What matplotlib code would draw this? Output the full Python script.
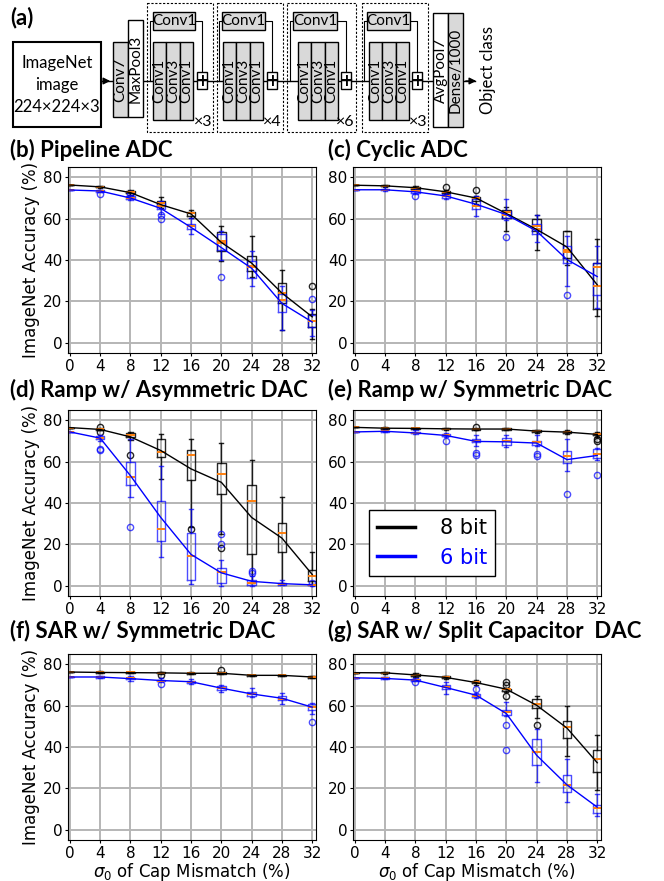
import matplotlib
matplotlib.use("Agg")
import matplotlib.pyplot as plt
from matplotlib.patches import Rectangle

# sigma_0 of capacitor mismatch (%)
sigma = [0, 4, 8, 12, 16, 20, 24, 28, 32]

# each box row: (whisker low, q1, median, q3, whisker high)
# (b) Pipeline ADC
b8_mean = [76.3, 75.4, 72.6, 66.8, 62.3, 48.5, 38.5, 24.0, 12.5]
b8_box = [(76.3, 76.3, 76.3, 76.3, 76.3), (74.8, 75.1, 75.4, 75.7, 76.0), (71.5, 72.2, 72.8, 73.4, 73.9),
          (65.2, 66.2, 67.8, 68.6, 70.7), (60.5, 61.3, 62.6, 63.2, 64.2), (39.7, 44.2, 49.1, 53.5, 56.4),
          (32.0, 34.8, 36.4, 41.8, 51.5), (6.0, 19.0, 23.9, 28.8, 35.3), (2.0, 7.6, 10.4, 14.1, 16.3)]
b8_fly = {32: [27.6]}
b6_mean = [73.9, 73.4, 70.0, 65.0, 55.8, 46.0, 36.0, 19.0, 10.0]
b6_box = [(73.9, 73.9, 73.9, 73.9, 73.9), (72.8, 73.0, 73.4, 73.8, 74.0), (69.0, 69.4, 70.2, 71.0, 71.5),
          (62.5, 64.6, 66.2, 67.8, 68.6), (52.7, 54.8, 56.4, 57.2, 60.5), (40.0, 45.0, 48.3, 52.4, 54.0),
          (27.2, 31.2, 36.9, 39.3, 44.2), (6.0, 15.0, 20.7, 23.4, 27.2), (3.0, 7.6, 10.4, 13.3, 16.0)]
b6_fly = {4: [72.0], 8: [71.8], 12: [60.0, 62.0], 20: [32.0], 32: [21.1]}

# (c) Cyclic ADC
c8_mean = [76.2, 75.9, 75.0, 73.0, 70.0, 62.5, 54.8, 46.3, 28.0]
c8_box = [(76.2, 76.2, 76.2, 76.2, 76.2), (75.4, 75.7, 76.0, 76.2, 76.5), (74.0, 74.5, 75.0, 75.4, 75.8),
          (71.8, 72.3, 72.8, 73.3, 73.8), (67.0, 68.8, 69.8, 70.4, 71.0), (54.0, 60.5, 63.4, 64.0, 65.7),
          (45.0, 54.0, 56.4, 59.7, 62.0), (37.7, 41.0, 45.0, 54.0, 54.0), (12.8, 16.3, 27.2, 38.5, 50.0)]
c8_fly = {12: [75.4], 16: [73.8]}
c6_mean = [74.0, 74.0, 73.0, 71.0, 67.0, 62.0, 54.0, 40.2, 32.0]
c6_box = [(74.0, 74.0, 74.0, 74.0, 74.0), (73.5, 73.8, 74.1, 74.5, 75.8), (72.0, 72.6, 73.2, 73.8, 75.0),
          (69.5, 70.2, 71.0, 71.8, 72.8), (61.3, 64.6, 66.0, 69.4, 71.0), (59.2, 60.5, 62.0, 63.6, 69.4),
          (48.8, 52.4, 55.0, 57.2, 62.0), (27.5, 38.5, 44.0, 46.7, 51.5), (16.6, 23.1, 36.4, 38.5, 46.7)]
c6_fly = {8: [71.0], 20: [51.2], 28: [23.0]}

# (d) Ramp w/ Asymmetric DAC
d8_mean = [76.5, 75.6, 72.0, 65.4, 56.5, 50.0, 33.0, 23.0, 5.4]
d8_box = [(76.5, 76.5, 76.5, 76.5, 76.5), (75.2, 75.5, 75.8, 76.0, 76.3), (70.5, 71.8, 72.8, 73.8, 74.5),
          (51.6, 62.2, 64.9, 70.8, 73.5), (28.5, 51.1, 63.0, 65.7, 70.8), (24.8, 44.6, 54.1, 59.3, 69.2),
          (1.3, 15.1, 41.1, 48.7, 60.9), (1.3, 16.2, 25.3, 30.2, 43.0), (0.5, 2.1, 4.9, 7.8, 16.4)]
d8_fly = {4: [76.8, 74.6], 8: [63.3], 16: [27.3], 20: [18.3]}
d6_mean = [74.4, 71.4, 53.2, 33.0, 15.1, 6.2, 2.1, 1.0, 0.4]
d6_box = [(74.4, 74.4, 74.4, 74.4, 74.4), (70.0, 70.8, 71.6, 72.2, 73.0), (42.7, 48.7, 52.8, 59.7, 70.8),
          (13.8, 21.6, 27.6, 41.1, 58.0), (1.0, 2.9, 14.3, 25.6, 37.0), (0.0, 1.3, 6.5, 8.6, 12.2),
          (0.0, 0.5, 1.5, 2.9, 4.9), (0.2, 0.5, 0.8, 1.2, 2.5), (0.0, 0.2, 0.4, 0.6, 1.0)]
d6_fly = {4: [66.2, 65.8], 8: [28.6], 20: [20.0, 24.8], 24: [6.2, 7.0], 32: [1.3]}

# (e) Ramp w/ Symmetric DAC
e8_mean = [76.6, 76.2, 76.1, 75.9, 75.8, 75.8, 74.8, 74.3, 73.2]
e8_box = [(76.6, 76.6, 76.6, 76.6, 76.6), (75.8, 76.0, 76.2, 76.4, 76.6), (75.7, 75.9, 76.1, 76.3, 76.5),
          (75.2, 75.6, 75.9, 76.2, 76.5), (75.2, 75.5, 75.8, 76.0, 76.3), (75.2, 75.5, 75.8, 76.1, 76.4),
          (73.9, 74.4, 74.8, 75.1, 75.5), (73.3, 73.9, 74.3, 74.7, 75.1), (72.0, 72.8, 73.3, 73.7, 74.2)]
e8_fly = {16: [76.9], 32: [69.8, 71.0]}
e6_mean = [74.4, 74.7, 73.9, 72.7, 69.8, 69.6, 69.0, 61.0, 63.0]
e6_box = [(74.4, 74.4, 74.4, 74.4, 74.4), (74.2, 74.5, 74.7, 75.0, 75.3), (73.3, 73.7, 74.0, 74.6, 75.3),
          (72.0, 72.4, 72.9, 73.3, 73.8), (67.5, 69.4, 70.2, 71.0, 73.1), (67.0, 67.9, 69.8, 71.4, 73.1),
          (67.5, 68.0, 69.3, 70.0, 72.7), (55.7, 59.3, 62.7, 65.4, 70.8), (60.6, 61.7, 63.8, 65.9, 66.6)]
e6_fly = {12: [69.8], 16: [64.3, 63.3], 24: [63.8, 62.7], 28: [44.3], 32: [53.4]}

# (f) SAR w/ Symmetric DAC
f8_mean = [76.3, 76.1, 76.0, 75.9, 75.7, 75.7, 74.7, 74.7, 73.9]
f8_box = [(76.3, 76.3, 76.3, 76.3, 76.3), (75.6, 75.9, 76.1, 76.3, 76.6), (75.7, 75.9, 76.1, 76.3, 76.4),
          (75.3, 75.6, 75.9, 76.1, 76.4), (75.3, 75.5, 75.7, 75.9, 76.1), (75.2, 75.5, 75.8, 76.1, 76.4),
          (74.3, 74.5, 74.7, 74.9, 75.1), (74.3, 74.5, 74.7, 74.9, 75.1), (73.2, 73.5, 73.9, 74.3, 74.6)]
f8_fly = {12: [74.9], 20: [77.1]}
f6_mean = [73.9, 73.9, 73.1, 72.2, 71.6, 68.5, 65.7, 63.6, 59.3]
f6_box = [(73.9, 73.9, 73.9, 73.9, 73.9), (73.2, 73.6, 74.0, 74.3, 74.6), (72.2, 72.8, 73.2, 73.6, 74.4),
          (71.3, 71.8, 72.2, 72.6, 73.4), (70.6, 71.0, 71.6, 72.2, 72.8), (66.4, 67.6, 68.4, 69.3, 70.1),
          (64.2, 64.9, 65.8, 66.6, 68.5), (61.0, 62.6, 63.4, 64.7, 66.0), (56.2, 58.0, 59.3, 60.9, 61.5)]
f6_fly = {12: [70.6], 32: [52.0]}

# (g) SAR w/ Split Capacitor DAC
g8_mean = [76.0, 75.9, 74.9, 73.7, 71.2, 68.0, 60.2, 49.2, 32.4]
g8_box = [(76.0, 76.0, 76.0, 76.0, 76.0), (75.2, 75.6, 75.9, 76.2, 76.5), (74.0, 74.5, 74.9, 75.3, 75.7),
          (73.0, 73.4, 73.8, 74.2, 74.6), (70.2, 70.8, 71.3, 72.0, 72.6), (66.5, 67.3, 67.9, 68.3, 68.8),
          (54.1, 58.9, 61.0, 63.2, 64.8), (35.6, 44.4, 49.7, 52.5, 60.0), (19.4, 27.9, 34.3, 38.4, 45.7)]
g8_fly = {20: [71.3, 69.8, 64.8], 24: [50.9]}
g6_mean = [73.5, 73.2, 72.4, 68.8, 65.1, 56.2, 36.0, 21.7, 10.9]
g6_box = [(73.5, 73.5, 73.5, 73.5, 73.5), (72.8, 73.1, 73.4, 73.8, 74.1), (71.8, 72.1, 72.4, 72.8, 73.3),
          (65.9, 68.1, 69.0, 70.0, 71.6), (63.6, 64.3, 64.9, 65.5, 66.2), (55.1, 55.6, 56.8, 57.8, 61.9),
          (23.3, 31.1, 37.6, 43.7, 48.9), (13.3, 18.1, 21.4, 26.6, 34.0), (6.5, 8.1, 10.4, 12.0, 17.3)]
g6_fly = {8: [71.3], 16: [68.0], 20: [50.9, 38.4]}

titles = ["(b) Pipeline ADC", "(c) Cyclic ADC", "(d) Ramp w/ Asymmetric DAC",
          "(e) Ramp w/ Symmetric DAC", "(f) SAR w/ Symmetric DAC", "(g) SAR w/ Split Capacitor  DAC"]
panels = [(b8_mean, b8_box, b8_fly, b6_mean, b6_box, b6_fly),
          (c8_mean, c8_box, c8_fly, c6_mean, c6_box, c6_fly),
          (d8_mean, d8_box, d8_fly, d6_mean, d6_box, d6_fly),
          (e8_mean, e8_box, e8_fly, e6_mean, e6_box, e6_fly),
          (f8_mean, f8_box, f8_fly, f6_mean, f6_box, f6_fly),
          (g8_mean, g8_box, g8_fly, g6_mean, g6_box, g6_fly)]

GRAY = "#d9d9d9"
TFONT = "Lato"


def make_stats(rows, fly):
    out = []
    for s, (lo, q1, med, q3, hi) in zip(sigma, rows):
        out.append(dict(whislo=lo, q1=q1, med=med, q3=q3, whishi=hi, fliers=fly.get(s, [])))
    return out


def draw_boxes(ax, rows, fly, color, alpha):
    ln = dict(color=color, lw=1.0, alpha=alpha)
    ax.bxp(make_stats(rows, fly), positions=sigma, widths=1.1, manage_ticks=False,
           boxprops=ln, whiskerprops=ln, capprops=ln,
           medianprops=dict(color="#ff7f0e", lw=1.4),
           flierprops=dict(marker="o", mfc="none", mec=color, ms=4.5, alpha=alpha))


fig = plt.figure(figsize=(6.64, 8.81), dpi=100)

# background axes in pixel coordinates for the diagram and panel titles
bg = fig.add_axes([0, 0, 1, 1])
bg.set_xlim(0, 664)
bg.set_ylim(881, 0)
bg.axis("off")


def box(x0, x1, y0, y1, fill, **kw):
    bg.add_patch(Rectangle((x0, y0), x1 - x0, y1 - y0, facecolor=fill, edgecolor="black", lw=1.0, zorder=3, **kw))


def vtext(x, y, s, size=11):
    bg.text(x, y, s, rotation=90, ha="center", va="center", fontsize=size, family=TFONT, zorder=4)


# (a) ResNet-50 diagram
bg.text(10, 24, "(a)", fontsize=16, fontweight="bold", family=TFONT)
bg.plot([101, 475], [81, 81], color="black", lw=1.0, zorder=1)
bg.annotate("", xy=(113, 81), xytext=(101, 81), arrowprops=dict(arrowstyle="-|>", color="black", lw=1.0))
bg.annotate("", xy=(479, 81), xytext=(463, 81), arrowprops=dict(arrowstyle="-|>", color="black", lw=1.0))
bg.add_patch(Rectangle((13, 42), 88, 85, facecolor="white", edgecolor="black", lw=1.5, zorder=3))
bg.text(57, 85, "ImageNet\nimage\n224×224×3", ha="center", va="center", fontsize=12,
        family=TFONT, linespacing=1.45, zorder=4)
box(113, 128, 42, 117, GRAY)
vtext(120.5, 79.5, "Conv7")
box(128, 143, 20, 117, "white")
vtext(135.5, 68.5, "MaxPool3")

blocks = [(147, 213, 153, 195, 153, 193, 197, "×3"),
          (217, 283, 222, 265, 223, 263, 267, "×4"),
          (287, 356, 293, 337, 298, 338, 341, "×6"),
          (362, 428, 367, 410, 369, 409, 412, "×3")]
for bx0, bx1, tx0, tx1, sx0, sx1, px, rep in blocks:
    bg.add_patch(Rectangle((bx0, 3), bx1 - bx0, 129, facecolor="none", edgecolor="black",
                           lw=0.8, ls=(0, (2, 1.5)), zorder=2))
    box(tx0, tx1, 12, 30, GRAY)
    bg.text((tx0 + tx1) / 2, 21, "Conv1", ha="center", va="center", fontsize=11, family=TFONT, zorder=4)
    # skip connection
    bg.plot([tx0 - 3, tx0 - 3, tx0], [81, 21, 21], color="black", lw=0.8, zorder=1)
    bg.plot([tx1, px + 5, px + 5], [21, 21, 72], color="black", lw=0.8, zorder=1)
    w = (sx1 - sx0) / 3
    for k, name in enumerate(["Conv1", "Conv3", "Conv1"]):
        box(sx0 + k * w, sx0 + (k + 1) * w, 42, 120, GRAY)
        vtext(sx0 + (k + 0.5) * w, 81, name)
    box(px, px + 10, 72, 89, "white")
    bg.text(px + 5, 80.5, "+", ha="center", va="center", fontsize=12, fontweight="bold", zorder=4)
    bg.text(bx1 - 1, 122, rep, ha="right", va="center", fontsize=11.5, family=TFONT, zorder=4)

box(433, 448, 13, 127, "white")
vtext(440.5, 70, "AvgPool7")
box(448, 463, 13, 127, GRAY)
vtext(455.5, 70, "Dense/1000")
vtext(488, 70, "Object class", size=12)

# panel titles
title_pos = [(10, 157), (328, 157), (10, 397), (328, 397), (10, 638), (328, 638)]

# axes rectangles (figure fractions)
lefts = [0.1024, 0.5316]
bottoms = [0.5993, 0.3235, 0.0465]
W, H = 0.373, 0.2111

for i, (m8, bx8, fl8, m6, bx6, fl6) in enumerate(panels):
    r, c = divmod(i, 2)
    ax = fig.add_axes([lefts[c], bottoms[r], W, H])
    bg.text(title_pos[i][0], title_pos[i][1], titles[i], fontsize=16, fontweight="bold",
            family=TFONT, va="baseline")
    draw_boxes(ax, bx8, fl8, "black", 0.85)
    draw_boxes(ax, bx6, fl6, "blue", 0.7)
    ax.plot(sigma, m8, color="black", lw=1.0, label="8 bit", zorder=5)
    ax.plot(sigma, m6, color="blue", lw=1.0, label="6 bit", zorder=5)
    ax.set_xlim(-0.25, 32.45)
    ax.set_ylim(-5, 85)
    ax.set_xticks(sigma)
    ax.set_yticks([0, 20, 40, 60, 80])
    ax.tick_params(labelsize=11, length=2.5, pad=1.5)
    ax.grid(True, color="#b5b5b5", lw=1.4)
    ax.set_axisbelow(True)
    if c == 0:
        ax.set_ylabel("ImageNet Accuracy (%)", fontsize=12, labelpad=2)
    if r == 2:
        ax.set_xlabel(r"$\sigma_0$ of Cap Mismatch (%)", fontsize=12, labelpad=0)
    if i == 3:
        leg = ax.legend(loc="lower left", bbox_to_anchor=(0.064, 0.108), borderaxespad=0,
                        fontsize=15, fancybox=False, edgecolor="black", framealpha=1,
                        handlelength=1.8, handletextpad=1.2, labelspacing=0.45)
        for line in leg.get_lines():
            line.set_linewidth(2.5)
        leg.get_texts()[1].set_color("blue")

fig.savefig("out.png", dpi=100)
